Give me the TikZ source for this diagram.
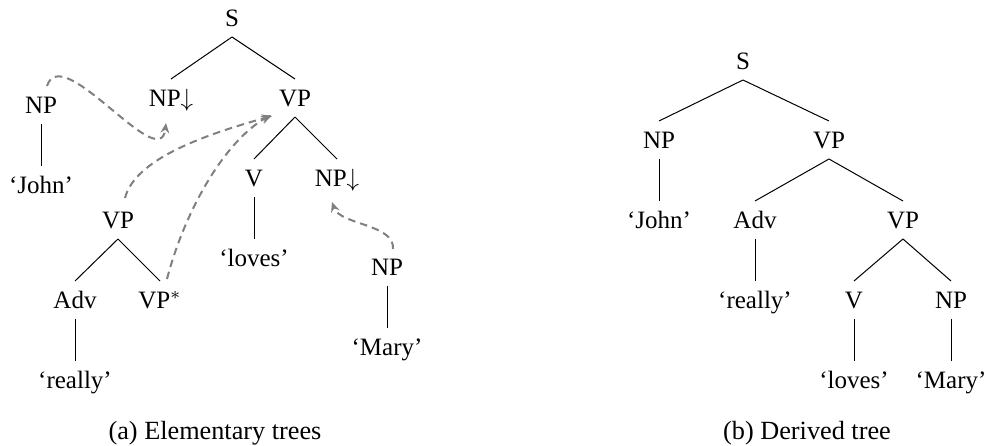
\documentclass[tikz,border=0pt]{standalone}
\usepackage{fontspec}
\setmainfont{Liberation Serif}
\usetikzlibrary{arrows.meta,calc}
\begin{document}
\begin{tikzpicture}[x=0.4pt,y=-0.4pt,
  tn/.style={text height=0.66em, text depth=0pt, inner xsep=0.2em, inner ysep=4.1pt, font=\fontsize{10}{12}\selectfont},
  edge/.style={draw=black, line width=0.4pt},
  subst/.style={draw=gray, dash pattern=on 3pt off 2pt, line width=0.8pt, -{Stealth[length=4pt,width=3.5pt]}},
  capt/.style={anchor=base, font=\fontsize{10.5}{12.5}\selectfont}]
\useasboundingbox (0,0) rectangle (988,446);
% (a) elementary trees
\node[tn] (S1) at (232,18) {S};
\node[tn] (NPd1) at (171,98) {NP$\downarrow$};
\node[tn] (VP1) at (295,98) {VP};
\node[tn] (V1) at (254,178) {V};
\node[tn] (NPd2) at (337,178) {NP$\downarrow$};
\node[tn] (loves1) at (254,258) {‘loves’};
\node[tn] (NPj) at (41,105) {NP};
\node[tn] (john1) at (41,185) {‘John’};
\node[tn] (VPa) at (118,220) {VP};
\node[tn] (Adv1) at (75,300) {Adv};
\node[tn] (VPs) at (160,300) {VP$^{*}$};
\node[tn] (really1) at (75,380) {‘really’};
\node[tn] (NPm) at (387,267) {NP};
\node[tn] (mary1) at (387,347) {‘Mary’};
\draw[edge] (S1.south) -- (NPd1.north);
\draw[edge] (S1.south) -- (VP1.north);
\draw[edge] (VP1.south) -- (V1.north);
\draw[edge] (VP1.south) -- (NPd2.north);
\draw[edge] (V1.south) -- (loves1.north);
\draw[edge] (NPj.south) -- (john1.north);
\draw[edge] (VPa.south) -- (Adv1.north);
\draw[edge] (VPa.south) -- (VPs.north);
\draw[edge] (Adv1.south) -- (really1.north);
\draw[edge] (NPm.south) -- (mary1.north);
% substitution / adjunction arrows
\draw[subst] ($(NPj.north)+(6,0)$) .. controls +(15,-46) and +(-6,53) .. ($(NPd1.south)+(-5,6)$);
\draw[subst] ($(VPa.north)+(7,-3)$) .. controls +(10,-38) and +(-72,20) .. ($(VP1.south)+(-23,-1)$);
\draw[subst] ($(VPs.north)+(7,-2)$) .. controls +(18,-69) and +(-46,26) .. ($(VP1.south)+(-24,-2)$);
\draw[subst] ($(NPm.north)+(6,1)$) .. controls +(2,-25) and +(8,23) .. ($(NPd2.south)+(-5,5)$);
\node[capt] (capa) at (215,439) {(a) Elementary trees};
% (b) derived tree
\node[tn] (S2) at (743,61) {S};
\node[tn] (NP2) at (659,140) {NP};
\node[tn] (VP2) at (829,140) {VP};
\node[tn] (john2) at (659,220) {‘John’};
\node[tn] (Adv2) at (755,220) {Adv};
\node[tn] (VP3) at (903,220) {VP};
\node[tn] (really2) at (755,300) {‘really’};
\node[tn] (V2) at (854,300) {V};
\node[tn] (NP3) at (951,300) {NP};
\node[tn] (loves2) at (854,380) {‘loves’};
\node[tn] (mary2) at (951,380) {‘Mary’};
\draw[edge] (S2.south) -- (NP2.north);
\draw[edge] (S2.south) -- (VP2.north);
\draw[edge] (NP2.south) -- (john2.north);
\draw[edge] (VP2.south) -- (Adv2.north);
\draw[edge] (VP2.south) -- (VP3.north);
\draw[edge] (Adv2.south) -- (really2.north);
\draw[edge] (VP3.south) -- (V2.north);
\draw[edge] (VP3.south) -- (NP3.north);
\draw[edge] (V2.south) -- (loves2.north);
\draw[edge] (NP3.south) -- (mary2.north);
\node[capt] (capb) at (807,439) {(b) Derived tree};
\end{tikzpicture}
\end{document}
